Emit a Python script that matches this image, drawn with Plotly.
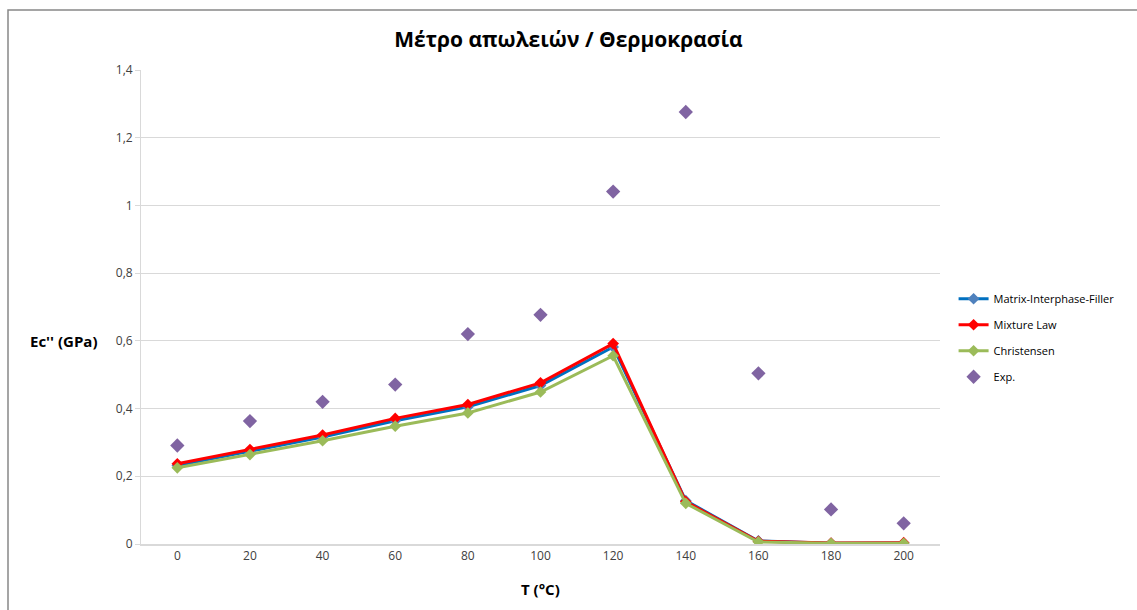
import plotly.graph_objects as go

# Temperature (°C)
temps = [0, 20, 40, 60, 80, 100, 120, 140, 160, 180, 200]

# Loss modulus Ec'' (GPa) per model
matrix_interphase_filler = [0.232, 0.273, 0.316, 0.364, 0.405, 0.468, 0.582, 0.128, 0.009, 0.002, 0.003]
mixture_law = [0.237, 0.279, 0.322, 0.371, 0.412, 0.476, 0.592, 0.125, 0.008, 0.003, 0.004]
christensen = [0.225, 0.264, 0.305, 0.348, 0.387, 0.449, 0.556, 0.120, 0.006, 0.002, 0.002]
experimental = [0.291, 0.363, 0.420, 0.471, 0.620, 0.677, 1.041, 1.276, 0.504, 0.102, 0.061]

y_ticks = [0, 0.2, 0.4, 0.6, 0.8, 1.0, 1.2, 1.4]
y_tick_text = ["0", "0,2", "0,4", "0,6", "0,8", "1", "1,2", "1,4"]

FONT = "Open Sans"

fig = go.Figure()

series = [
    ("Matrix-Interphase-Filler", matrix_interphase_filler, "#0070C0", "#4F81BD"),
    ("Mixture Law", mixture_law, "#FF0000", "#FF0000"),
    ("Christensen", christensen, "#9BBB59", "#9BBB59"),
]
for i, (name, vals, lc, mc) in enumerate(series):
    fig.add_trace(go.Scatter(
        x=temps, y=vals, name=name, mode="lines+markers",
        line=dict(color=lc, width=3),
        marker=dict(symbol="diamond", size=9, color=mc),
        legendgroup=f"g{i}",
    ))

fig.add_trace(go.Scatter(
    x=temps, y=experimental, name="Exp.", mode="markers",
    marker=dict(symbol="diamond", size=11, color="#8064A2"),
    legendgroup="g3",
))

fig.update_layout(
    width=1137, height=610,
    margin=dict(l=141, r=197, t=70, b=66),
    paper_bgcolor="white", plot_bgcolor="white",
    font=dict(family=FONT, size=12, color="#404040"),
    title=dict(
        text="<b>Μέτρο απωλειών / Θερμοκρασία</b>",
        x=0.5, xanchor="center", y=1 - 40 / 610, yanchor="middle",
        font=dict(family=FONT, size=21, color="#000000"),
    ),
    showlegend=True,
    legend=dict(
        x=1.017, xanchor="left", y=0.548, yanchor="top",
        font=dict(family=FONT, size=11, color="#000000"),
        tracegroupgap=7, bgcolor="rgba(0,0,0,0)",
    ),
    xaxis=dict(
        range=[-10, 210], tickvals=temps, ticktext=[str(t) for t in temps],
        showgrid=False, zeroline=False, showline=True,
        linecolor="#D9D9D9", linewidth=1.5, ticks="",
        tickfont=dict(family=FONT, size=12, color="#404040"),
    ),
    yaxis=dict(
        range=[0, 1.4], tickvals=y_ticks, ticktext=y_tick_text,
        showgrid=True, gridcolor="#D9D9D9", gridwidth=1,
        zeroline=False, showline=True, linecolor="#D9D9D9", linewidth=1,
        ticks="outside", ticklen=5, tickcolor="#D9D9D9",
        tickfont=dict(family=FONT, size=12, color="#404040"),
    ),
)

# Outer chart frame
fig.add_shape(type="rect", xref="paper", yref="paper",
              x0=(8 - 141) / 799, x1=(1145 - 141) / 799,
              y0=(544 - 620) / 474, y1=(544 - 10) / 474,
              line=dict(color="#888888", width=1.5), fillcolor="rgba(0,0,0,0)", layer="below")

# Axis titles
fig.add_annotation(text="<b>Ec'' (GPa)</b>", xref="paper", yref="paper",
                   x=(64 - 141) / 799, y=(544 - 341) / 474,
                   xanchor="center", yanchor="middle", showarrow=False,
                   font=dict(family=FONT, size=15, color="#000000"))
fig.add_annotation(text="<b>T (°C)</b>", xref="paper", yref="paper",
                   x=0.5, y=(544 - 589) / 474,
                   xanchor="center", yanchor="middle", showarrow=False,
                   font=dict(family=FONT, size=15, color="#000000"))

fig.write_html("out.html")
